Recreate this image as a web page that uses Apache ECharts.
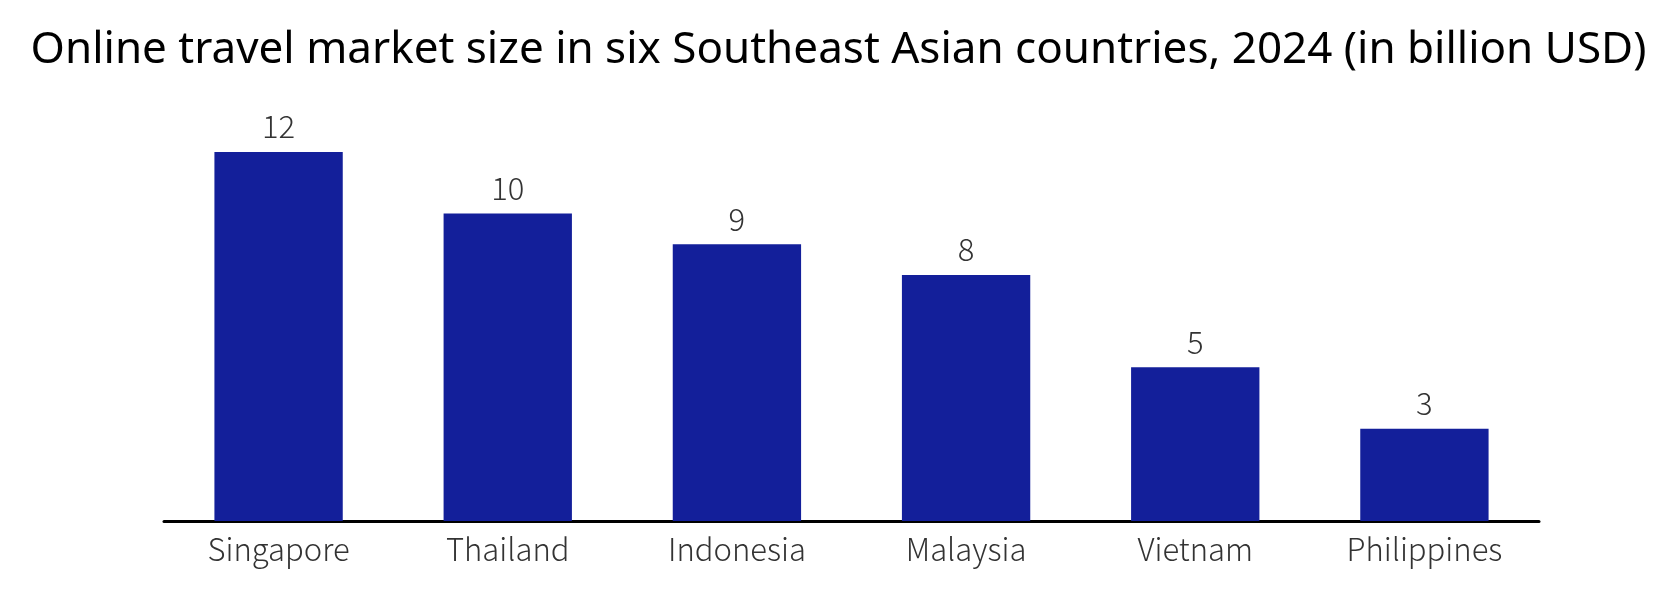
<!DOCTYPE html>
<html>
<head>
<meta charset="utf-8">
<script src="https://cdn.jsdelivr.net/npm/echarts@6/dist/echarts.min.js"></script>
<style>html,body{margin:0;padding:0;background:#fff}#c{width:1677px;height:609px}</style>
</head>
<body>
<div id="c"></div>
<script>
var titleText = 'Online travel market size in six Southeast Asian countries, 2024 (in billion USD)';
var countries = ['Singapore', 'Thailand', 'Indonesia', 'Malaysia', 'Vietnam', 'Philippines'];
var marketSize = [12, 10, 9, 8, 5, 3];

var chart = echarts.init(document.getElementById('c'));
chart.setOption({
  backgroundColor: '#fff',
  animation: false,
  title: {
    text: titleText,
    left: 'center',
    top: 23,
    textStyle: { fontFamily: 'Noto Sans', fontSize: 44, fontWeight: 'normal', color: '#000' }
  },
  grid: { left: 164, right: 138, top: 152, bottom: 88 },
  xAxis: {
    type: 'category',
    data: countries,
    axisLine: { lineStyle: { color: '#000', width: 3 } },
    axisTick: { show: false },
    axisLabel: { fontFamily: 'Noto Sans CJK SC', fontWeight: 300, fontSize: 31, color: '#333', margin: 13 }
  },
  yAxis: {
    type: 'value', min: 0, max: 12, show: false
  },
  series: [{
    type: 'bar',
    data: marketSize,
    barWidth: '56%',
    itemStyle: { color: '#131f9a' },
    label: { show: true, position: 'top', distance: 10, fontFamily: 'Noto Sans CJK SC', fontWeight: 300, fontSize: 31, color: '#333' }
  }]
});
</script>
</body>
</html>
